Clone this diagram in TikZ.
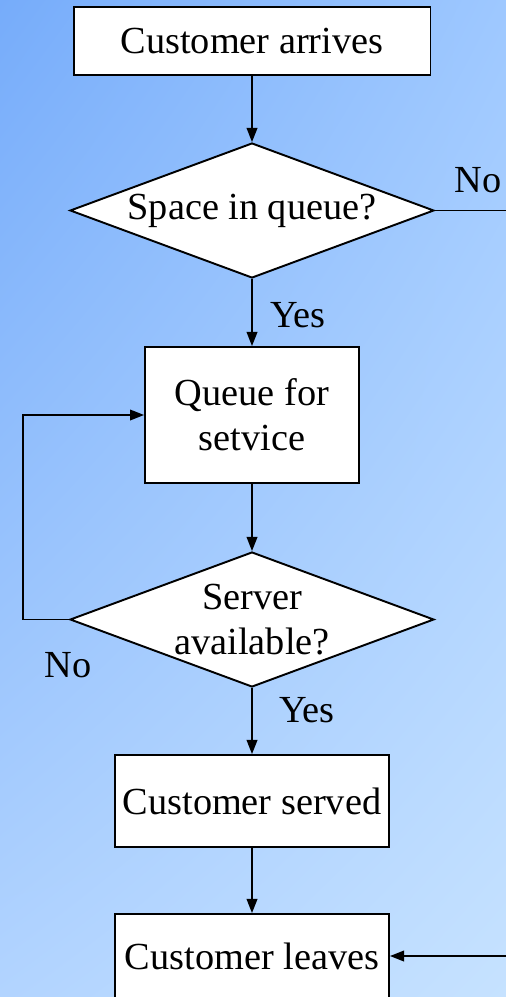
\documentclass[tikz,border=0pt]{standalone}
\usepackage{fontspec}
\setmainfont{Liberation Serif}
\usetikzlibrary{shapes.geometric,arrows.meta,shadings}

\definecolor{bgtl}{RGB}{118,172,250}
\definecolor{bgtr}{RGB}{158,200,255}
\definecolor{bgbl}{RGB}{178,212,255}
\definecolor{bgbr}{RGB}{198,226,255}

\begin{document}
\begin{tikzpicture}[x=0.02cm,y=-0.02cm,
  every node/.style={font=\fontsize{21.8}{25.4}\selectfont},
  stepbox/.style={draw,fill=white,line width=1.1pt,inner sep=0pt,align=center},
  choice/.style={diamond,draw,fill=white,line width=1.1pt,inner sep=0pt,align=center,
    shape aspect=2.7,minimum width=7.28cm,minimum height=2.7cm},
  flow/.style={line width=1.1pt,-{Triangle[length=8pt,width=6pt]}}]
\clip (0,0) rectangle (506,997);
\shade[upper left=bgtl,upper right=bgtr,lower left=bgbl,lower right=bgbr]
  (0,0) rectangle (506,997);

\node[stepbox,minimum width=7.14cm,minimum height=1.36cm] (arrive) at (252,41) {Customer arrives};
\node[choice] (spacechk) at (252,210.5) {Space in queue?};
\node[stepbox,minimum width=4.28cm,minimum height=2.72cm] (queue) at (252,415) {Queue for\\setvice};
\node[choice] (serverchk) at (252,619.5) {Server\\available?};
\node[stepbox,minimum width=5.48cm,minimum height=1.84cm] (served) at (252,801) {Customer served};
\node[stepbox,minimum width=5.48cm,minimum height=1.68cm] (leaves) at (252,956) {Customer leaves};

% ends of the lines that run off to the right
\coordinate (spaceout) at (510,210.5);
\coordinate (leavesin) at (510,956);

\node[anchor=base] (nospace) at (478,192) {No};
\node[anchor=base] (yesspace) at (298,327) {Yes};
\node[anchor=base] (noserver) at (68,677) {No};
\node[anchor=base] (yesserver) at (307,722) {Yes};

\path[draw,flow] (arrive) -- (spacechk);
\path[draw,flow] (spacechk) -- (queue);
\path[draw,flow] (queue) -- (serverchk);
\path[draw,flow] (serverchk) -- (served);
\path[draw,flow] (served) -- (leaves);

\path[draw,line width=1.1pt] (spacechk.east) -- (spaceout);
\path[draw,flow] (serverchk.west) -- ++(-46,0) |- (queue.west);
\path[draw,flow] (leavesin) -- (leaves.east);
\end{tikzpicture}
\end{document}
